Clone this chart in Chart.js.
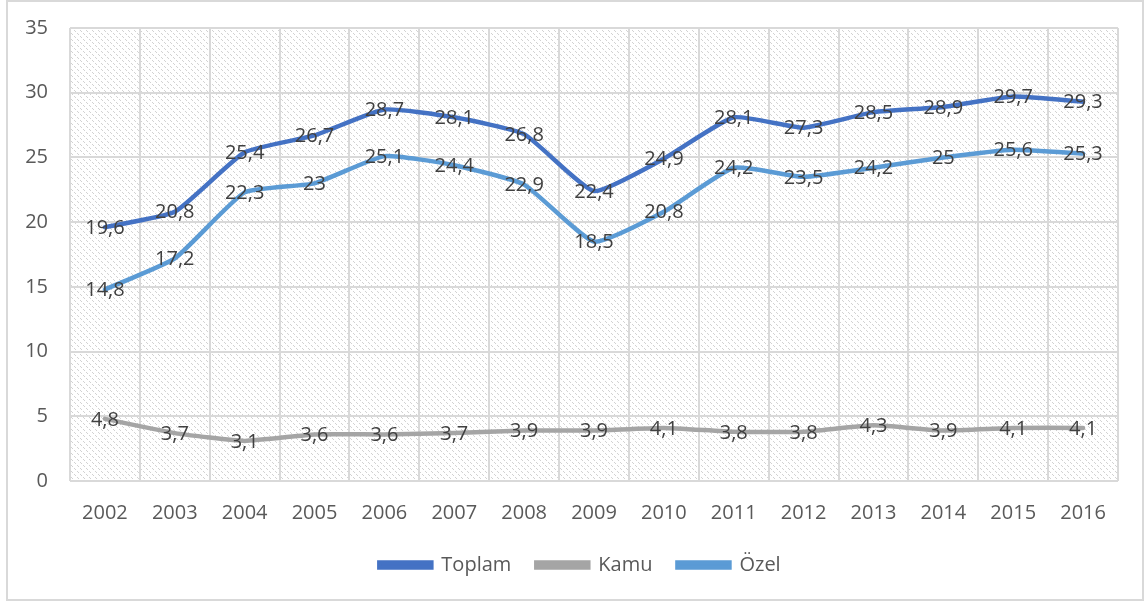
<!DOCTYPE html>
<html>
<head>
<meta charset="utf-8">
<script src="https://cdn.jsdelivr.net/npm/chart.js@4"></script>
<style>
  body { margin: 0; background: #fff; }
  #frame {
    position: absolute; left: 6px; top: 0px;
    width: 1138px; height: 601px;
    border: 2px solid #d9d9d9; box-sizing: border-box;
  }
  #wrap { position: absolute; left: 0; top: -8px; width: 1134px; height: 605px; }
</style>
</head>
<body>
<div id="frame"><div id="wrap"><canvas id="rateChart"></canvas></div></div>
<script>
const years = ['2002', '2003', '2004', '2005', '2006', '2007', '2008', '2009',
  '2010', '2011', '2012', '2013', '2014', '2015', '2016'];
const toplam = [19.6, 20.8, 25.4, 26.7, 28.7, 28.1, 26.8, 22.4, 24.9, 28.1, 27.3, 28.5, 28.9, 29.7, 29.3];
const kamu = [4.8, 3.7, 3.1, 3.6, 3.6, 3.7, 3.9, 3.9, 4.1, 3.8, 3.8, 4.3, 3.9, 4.1, 4.1];
const ozel = [14.8, 17.2, 22.3, 23, 25.1, 24.4, 22.9, 18.5, 20.8, 24.2, 23.5, 24.2, 25, 25.6, 25.3];

const fontFamily = '"Open Sans", Lato, sans-serif';

// diagonal dashed hatch like the excel plot area fill
const makeHatch = (ctx) => {
  const c = document.createElement('canvas');
  c.width = 6; c.height = 6;
  const p = c.getContext('2d');
  p.fillStyle = '#d2d2d2';
  [0, 1, 3, 4].forEach(i => p.fillRect(i, i, 1, 1));
  return ctx.createPattern(c, 'repeat');
}

const hatchPlugin = {
  id: 'hatch',
  beforeDraw(chart) {
    const { ctx, chartArea: a } = chart;
    ctx.save();
    ctx.fillStyle = makeHatch(ctx);
    ctx.fillRect(a.left, a.top, a.right - a.left, a.bottom - a.top);
    ctx.restore();
  }
}

const labelPlugin = {
  id: 'pointLabels',
  afterDatasetsDraw(chart) {
    const { ctx } = chart;
    ctx.save();
    ctx.font = '20px ' + fontFamily;
    ctx.fillStyle = '#404040';
    ctx.textAlign = 'center';
    ctx.textBaseline = 'middle';
    chart.data.datasets.forEach((ds, i) => {
      chart.getDatasetMeta(i).data.forEach((pt, j) => {
        ctx.fillText(String(ds.data[j]).replace('.', ','), pt.x, pt.y + 1);
      });
    });
    ctx.restore();
  }
}

const ctx1 = document.getElementById('rateChart');

new Chart(ctx1, {
  type: 'line',
  data: {
    labels: years,
    datasets: [
      { label: 'Toplam', data: toplam, borderColor: '#4472c4', backgroundColor: '#4472c4' },
      { label: 'Kamu', data: kamu, borderColor: '#a5a5a5', backgroundColor: '#a5a5a5' },
      { label: 'Özel', data: ozel, borderColor: '#5b9bd5', backgroundColor: '#5b9bd5' }
    ]
  },
  options: {
    responsive: true,
    maintainAspectRatio: false,
    animation: false,
    layout: { padding: { top: 26, right: 0, bottom: 14, left: 10 } },
    elements: {
      line: { borderWidth: 4.5, tension: 0.15, borderCapStyle: 'round' },
      point: { radius: 0 }
    },
    scales: {
      x: {
        offset: true,
        grid: { offset: true, color: '#d9d9d9', lineWidth: 2, drawTicks: false },
        border: { display: false },
        ticks: { color: '#595959', font: { family: fontFamily, size: 20 }, padding: 20 },
        afterFit(scale) { scale.height = 49; }
      },
      y: {
        min: 0, max: 35,
        grid: { color: '#d9d9d9', lineWidth: 2, drawTicks: false },
        border: { display: false },
        ticks: { stepSize: 5, color: '#595959', font: { family: fontFamily, size: 20 }, padding: 22 },
        afterFit(scale) { scale.width = 52; }
      },
      // empty right axis, only keeps space on the right so the legend stays centred
      yRight: {
        position: 'right',
        min: 0, max: 35,
        grid: { display: false },
        border: { display: false },
        ticks: { display: false },
        afterFit(scale) { scale.width = 24; }
      }
    },
    plugins: {
      legend: {
        position: 'bottom',
        labels: {
          color: '#595959',
          font: { family: fontFamily, size: 20 },
          boxWidth: 52, boxHeight: 5, padding: 25
        }
      },
      tooltip: { enabled: false }
    }
  },
  plugins: [hatchPlugin, labelPlugin]
});
</script>
</body>
</html>
